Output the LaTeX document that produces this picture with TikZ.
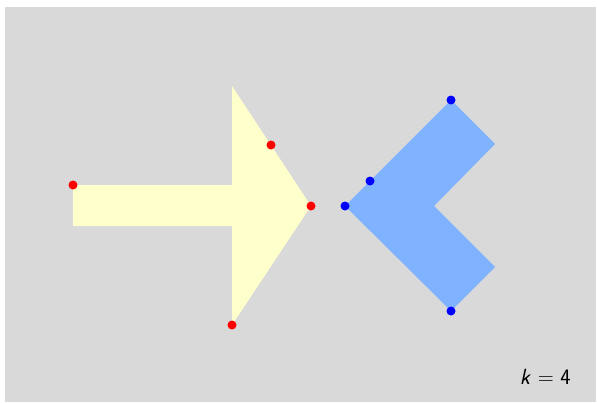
\documentclass[tikz,border=0pt]{standalone}
\usepackage{tikz}
\usetikzlibrary{positioning}
\usepackage{xcolor}
\definecolor{canvas}{HTML}{D9D9D9}
\definecolor{arrowfill}{HTML}{FFFFCC}
\definecolor{chevfill}{HTML}{80B3FF}
\definecolor{reddot}{HTML}{FF0000}
\definecolor{bluedot}{HTML}{0000FF}
\tikzset{
  pt/.style={circle, inner sep=0pt, minimum size=9pt},
  rpt/.style={pt, fill=reddot},
  bpt/.style={pt, fill=bluedot}
}

\begin{document}
\begin{tikzpicture}[x=1pt,y=-1pt]
\useasboundingbox (0,0) rectangle (597,402);
\fill[canvas] (5,7) rectangle (596,402);
% yellow arrow
\fill[arrowfill] (73,185) -- (232,185) -- (232,86) -- (311,206) -- (232,325)
  -- (232,226) -- (73,226) -- cycle;
% blue chevron
\fill[chevfill] (345,206) -- (451,100) -- (495,144) -- (434,206) -- (495,267)
  -- (451,311) -- cycle;
% marked points
\node[rpt] (r1) at (73,185) {};
\node[rpt] (r2) at (271,145) {};
\node[rpt] (r3) at (311,206) {};
\node[rpt] (r4) at (232,325) {};
\node[bpt] (b1) at (345,206) {};
\node[bpt] (b2) at (370,181) {};
\node[bpt] (b3) at (451,100) {};
\node[bpt] (b4) at (451,311) {};
\node[anchor=base east, inner sep=0pt, font=\fontsize{22}{26}\selectfont\sffamily] (klabel) at (571,384) {\textit{k}\hspace{0.3em}=\hspace{0.3em}4};
\end{tikzpicture}
\end{document}
